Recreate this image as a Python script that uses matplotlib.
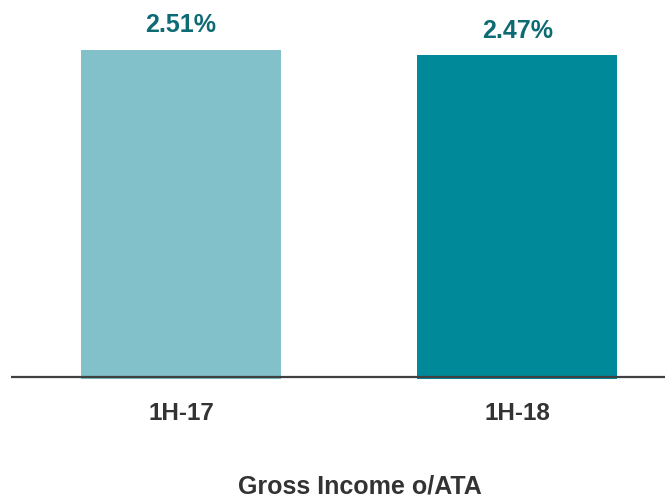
import matplotlib.pyplot as plt

categories = ['1H-17', '1H-18']
values = [2.51, 2.47]
labels = ['2.51%', '2.47%']
colors = ['#82C1C9', '#008A99']
title = 'Gross Income o/ATA'

plt.rcParams['font.family'] = ['Liberation Sans', 'DejaVu Sans']

fig = plt.figure(figsize=(6.65, 5), dpi=100)
ax = fig.add_axes([11/665, 121/500, 654/665, 379/500])

x = range(len(categories))
bars = ax.bar(x, values, width=0.595, color=colors, zorder=1)
for b, lab in zip(bars, labels):
    ax.annotate(lab, (b.get_x() + b.get_width()/2, b.get_height()),
                xytext=(0, 9), textcoords='offset points', ha='center', va='bottom',
                fontsize=18, fontweight='bold', color='#0E6B74')

ax.axhline(0.015, color='#404040', lw=1.6, zorder=2)
ax.set_xlim(-0.506, 1.44)
ax.set_ylim(0, 2.891)
ax.set_xticks(list(x))
ax.set_xticklabels(categories, fontsize=17.5, fontweight='bold', color='#333333')
ax.tick_params(axis='x', length=0, pad=16.5)
ax.set_yticks([])
for s in ax.spines.values():
    s.set_visible(False)

# title sits right of centre in the original
fig.text(360/665, 14/500, title, ha='center', va='center',
         fontsize=18, fontweight='bold', color='#333333')

fig.savefig('out.png', dpi=100)
